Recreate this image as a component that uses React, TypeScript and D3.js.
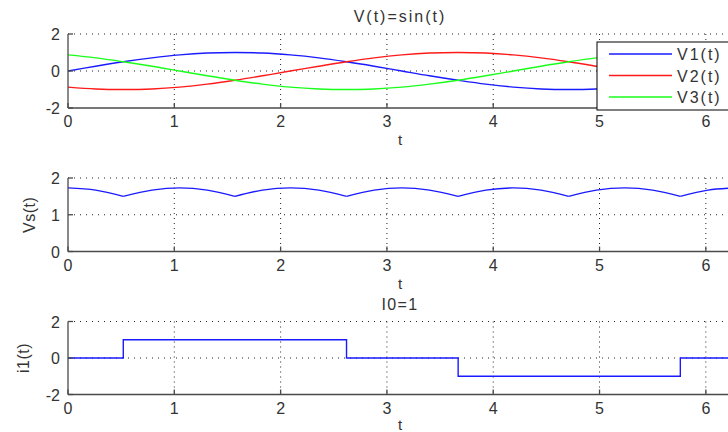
import React from "react";
import * as d3 from "d3";

// Sample times (15° steps over one period)
const T = [0, 0.26, 0.52, 0.79, 1.05, 1.31, 1.57, 1.83, 2.09, 2.36, 2.62, 2.88, 3.14, 3.4, 3.67, 3.93, 4.19, 4.45, 4.71, 4.97, 5.24, 5.5, 5.76, 6.02, 6.28];
const V1 = [0, 0.26, 0.5, 0.71, 0.87, 0.97, 1, 0.97, 0.87, 0.71, 0.5, 0.26, 0, -0.26, -0.5, -0.71, -0.87, -0.97, -1, -0.97, -0.87, -0.71, -0.5, -0.26, 0];
const V2 = [-0.87, -0.97, -1, -0.97, -0.87, -0.71, -0.5, -0.26, 0, 0.26, 0.5, 0.71, 0.87, 0.97, 1, 0.97, 0.87, 0.71, 0.5, 0.26, 0, -0.26, -0.5, -0.71, -0.87];
const V3 = [0.87, 0.71, 0.5, 0.26, 0, -0.26, -0.5, -0.71, -0.87, -0.97, -1, -0.97, -0.87, -0.71, -0.5, -0.26, 0, 0.26, 0.5, 0.71, 0.87, 0.97, 1, 0.97, 0.87];
const VS = [1.73, 1.67, 1.5, 1.67, 1.73, 1.67, 1.5, 1.67, 1.73, 1.67, 1.5, 1.67, 1.73, 1.67, 1.5, 1.67, 1.73, 1.67, 1.5, 1.67, 1.73, 1.67, 1.5, 1.67, 1.73];
const I1 = [0, 0, 1, 1, 1, 1, 1, 1, 1, 1, 0, 0, 0, 0, -1, -1, -1, -1, -1, -1, -1, -1, 0, 0, 0];

const X_TICKS = [0, 1, 2, 3, 4, 5, 6];
const Y_TICKS_SYM = [-2, 0, 2];
const Y_TICKS_VS = [0, 1, 2];
const LEGEND_LABELS = ["V1(t)", "V2(t)", "V3(t)"];
const COLORS = ["#1a1aff", "#ff1a1a", "#1aff1a"];

const W = 728;
const H = 432;
const FONT = "'Liberation Sans', Arial, sans-serif";
const TEXT = "#333";
const AXIS = "#4a4a4a";

const x = d3.scaleLinear().domain([0, 6.28]).range([68, 735.6]);

type Series = { values: number[]; color: string; curve: any; cusps?: boolean };

// split a series into index ranges at its local minima (cusps), so each arc is smoothed separately
function segments(values: number[], cusps?: boolean): number[][] {
  const idx = values.map((_, i) => i);
  if (!cusps) return [idx];
  const out: number[][] = [];
  let cur: number[] = [];
  values.forEach((v, i) => {
    cur.push(i);
    const isMin = i > 0 && i < values.length - 1 && v < values[i - 1] && v < values[i + 1];
    if (isMin) {
      out.push(cur);
      cur = [i];
    }
  });
  if (cur.length > 1) out.push(cur);
  return out;
}

function Panel(props: {
  top: number;
  bottom: number;
  domain: [number, number];
  yTicks: number[];
  series: Series[];
  title?: string;
  titleSpacing?: number;
  ylabel?: string;
  ylabelX?: number;
}) {
  const { top, bottom, domain, yTicks, series, title, titleSpacing, ylabel, ylabelX } = props;
  const y = d3.scaleLinear().domain(domain).range([bottom, top]);
  const [x0, x1] = x.range();
  return (
    <g>
      {/* grid */}
      {X_TICKS.filter((t) => t !== 0).map((t) => (
        <line key={"gx" + t} x1={x(t)} x2={x(t)} y1={top} y2={bottom} stroke="#222" strokeWidth={1} strokeDasharray="1,4" />
      ))}
      {yTicks.filter((t) => t !== domain[0]).map((t) => (
        <line key={"gy" + t} x1={x0} x2={x1} y1={y(t)} y2={y(t)} stroke="#222" strokeWidth={1} strokeDasharray="1,5" />
      ))}
      {/* data */}
      {series.map((s, i) =>
        segments(s.values, s.cusps).map((seg, k) => {
          const line = d3
            .line<number>()
            .x((j) => x(T[j]))
            .y((j) => y(s.values[j]))
            .curve(s.curve);
          return <path key={i + "-" + k} d={line(seg) || ""} fill="none" stroke={s.color} strokeWidth={1.4} />;
        })
      )}
      {/* axes */}
      <line x1={x0} x2={x1} y1={bottom} y2={bottom} stroke={AXIS} strokeWidth={1.3} />
      <line x1={x0} x2={x0} y1={top} y2={bottom} stroke={AXIS} strokeWidth={1.3} />
      {X_TICKS.map((t) => (
        <line key={"tx" + t} x1={x(t)} x2={x(t)} y1={bottom} y2={bottom - 5} stroke={AXIS} strokeWidth={1.3} />
      ))}
      {yTicks.map((t) => (
        <line key={"ty" + t} x1={x0} x2={x0 + 5} y1={y(t)} y2={y(t)} stroke={AXIS} strokeWidth={1.3} />
      ))}
      {/* tick labels */}
      {X_TICKS.map((t) => (
        <text key={"lx" + t} x={x(t)} y={bottom + 19} textAnchor="middle" fontSize={16} fontFamily={FONT} fill={TEXT}>
          {t}
        </text>
      ))}
      {yTicks.map((t) => (
        <text key={"ly" + t} x={x0 - 8} y={y(t) + 6} textAnchor="end" fontSize={16} fontFamily={FONT} fill={TEXT}>
          {t}
        </text>
      ))}
      <text x={400} y={Math.min(bottom + 37, 430)} textAnchor="middle" fontSize={15} fontFamily={FONT} fill={TEXT}>
        t
      </text>
      {title && (
        <text
          x={400}
          y={top - 12}
          textAnchor="middle"
          fontSize={16}
          fontFamily={FONT}
          fill={TEXT}
          letterSpacing={titleSpacing || 0}
        >
          {title}
        </text>
      )}
      {ylabel && (
        <text
          transform={`translate(${ylabelX},${(top + bottom) / 2}) rotate(-90)`}
          textAnchor="middle"
          fontSize={16}
          fontFamily={FONT}
          fill={TEXT}
          letterSpacing={0.5}
        >
          {ylabel}
        </text>
      )}
    </g>
  );
}

export default function App() {
  return (
    <svg width={W} height={H} style={{ position: "absolute", left: 0, top: 0, background: "#fff" }}>
      <rect x={0} y={0} width={W} height={H} fill="#fff" />
      <Panel
        top={34}
        bottom={108}
        domain={[-2, 2]}
        yTicks={Y_TICKS_SYM}
        title="V(t)=sin(t)"
        titleSpacing={2}
        series={[
          { values: V1, color: COLORS[0], curve: d3.curveCatmullRom },
          { values: V2, color: COLORS[1], curve: d3.curveCatmullRom },
          { values: V3, color: COLORS[2], curve: d3.curveCatmullRom },
        ]}
      />
      <Panel
        top={178}
        bottom={251.5}
        domain={[0, 2]}
        yTicks={Y_TICKS_VS}
        ylabel="Vs(t)"
        ylabelX={35}
        series={[{ values: VS, color: COLORS[0], curve: d3.curveCatmullRom, cusps: true }]}
      />
      <Panel
        top={321.5}
        bottom={394.5}
        domain={[-2, 2]}
        yTicks={Y_TICKS_SYM}
        title="I0=1"
        titleSpacing={1.3}
        ylabel="i1(t)"
        ylabelX={29}
        series={[{ values: I1, color: COLORS[0], curve: d3.curveStepAfter }]}
      />
      {/* legend */}
      <g>
        <rect x={597} y={42} width={140} height={68} fill="#fff" stroke="#000" strokeWidth={1} />
        {LEGEND_LABELS.map((lab, i) => (
          <g key={lab}>
            <line x1={609} x2={672} y1={54 + i * 21.5} y2={54 + i * 21.5} stroke={COLORS[i]} strokeWidth={1.4} />
            <text x={677} y={54 + i * 21.5 + 6} fontSize={16} fontFamily={FONT} fill={TEXT} letterSpacing={2}>
              {lab}
            </text>
          </g>
        ))}
      </g>
    </svg>
  );
}
